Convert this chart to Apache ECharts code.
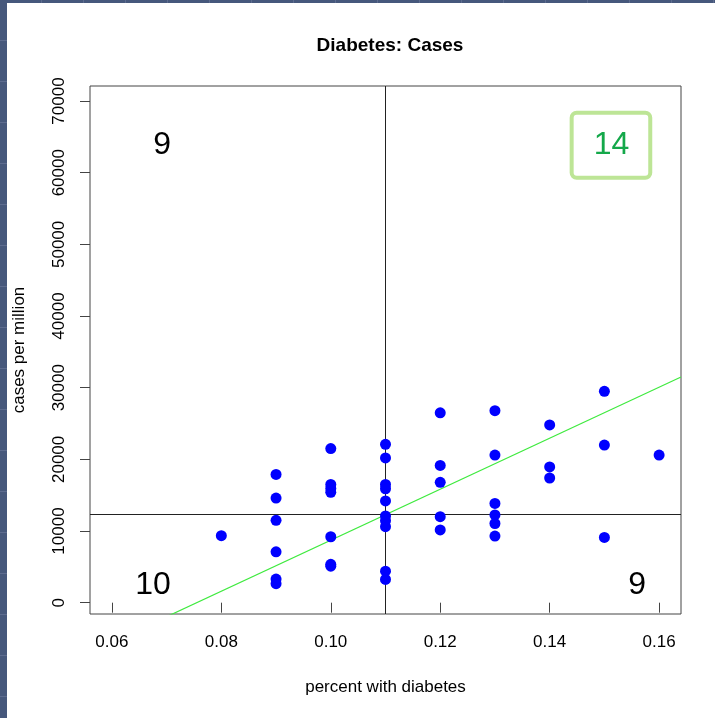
<!DOCTYPE html>
<html>
<head>
<meta charset="utf-8">
<script src="https://cdn.jsdelivr.net/npm/echarts@6/dist/echarts.min.js"></script>
<style>
  html, body { margin: 0; padding: 0; background: #ffffff; }
  #frame { position: relative; width: 715px; height: 718px; overflow: hidden; background: #ffffff; }
  #sideBar { position: absolute; left: 0; top: 0; width: 7px; height: 718px;
    background: repeating-linear-gradient(to bottom, #46587c 0px, #46587c 40px, #5d6c8f 40px, #5d6c8f 41px); }
  #topBar { position: absolute; left: 0; top: 0; width: 715px; height: 3px;
    background: repeating-linear-gradient(to right, #46587c 0px, #46587c 41px, #5d6c8f 41px, #5d6c8f 42px); }
  #chart { position: absolute; left: 0; top: 0; width: 715px; height: 718px; }
</style>
</head>
<body>
<div id="frame">
  <div id="chart"></div>
  <div id="sideBar"></div>
  <div id="topBar"></div>
</div>
<script>
// Prevalence (x) and case rate (y) per region
const percentDiabetes = [
  0.08,
  0.09, 0.09, 0.09, 0.09, 0.09, 0.09,
  0.10, 0.10, 0.10, 0.10, 0.10, 0.10, 0.10,
  0.11, 0.11, 0.11, 0.11, 0.11, 0.11, 0.11, 0.11, 0.11, 0.11,
  0.12, 0.12, 0.12, 0.12, 0.12,
  0.13, 0.13, 0.13, 0.13, 0.13, 0.13,
  0.14, 0.14, 0.14,
  0.15, 0.15, 0.15,
  0.16
];
const casesPerMillion = [
  9345,
  17900, 14600, 11500, 7100, 3300, 2650,
  21500, 16500, 15950, 15400, 9200, 5350, 5100,
  22100, 20200, 16500, 15900, 14200, 12100, 11450, 10600, 4400, 3250,
  26500, 19150, 16800, 12000, 10150,
  26800, 20600, 13850, 12250, 11050, 9300,
  24800, 18950, 17400,
  29500, 22000, 9100,
  20600
];

// Axis ticks
const xTicks = [0.06, 0.08, 0.10, 0.12, 0.14, 0.16];
const yTicks = [0, 10000, 20000, 30000, 40000, 50000, 60000, 70000];

// Quadrant dividers and least-squares fit
const xDivider = 0.11;
const yDivider = 12270;
const fitIntercept = -26865;
const fitSlope = 355800;

// Quadrant counts, placed in data coordinates
const countLabels = ['9', '14', '10', '9'];
const countX = [0.0692, 0.1512, 0.0675, 0.156];
const countY = [63836, 63836, 2469, 2469];

const X_MIN = 0.056, X_MAX = 0.164;
const Y_MIN = -1580, Y_MAX = 72100;

const FONT = '"Liberation Sans", Arial, Helvetica, sans-serif';

const points = percentDiabetes.map((x, i) => [x, casesPerMillion[i]]);
const fitLine = [X_MIN, X_MAX].map(x => [x, fitIntercept + fitSlope * x]);
const counts = countLabels.map((t, i) => ({
  value: [countX[i], countY[i], t],
  label: i === 1 ? {
    color: '#14a84a',
    borderColor: '#bde596',
    borderWidth: 4,
    borderRadius: 3,
    padding: [14, 19, 13, 20],
    backgroundColor: '#ffffff'
  } : {}
}));

const chart = echarts.init(document.getElementById('chart'), null, { renderer: 'canvas' });

chart.setOption({
  animation: false,
  backgroundColor: '#ffffff',
  title: {
    text: 'Diabetes: Cases',
    left: 385,
    top: 31,
    textAlign: 'center',
    textStyle: { fontFamily: FONT, fontSize: 19, fontWeight: 'bold', color: '#000' }
  },
  grid: {
    left: 90, right: 34, top: 86, bottom: 104,
    show: true, borderColor: '#444', borderWidth: 1, backgroundColor: 'transparent'
  },
  xAxis: {
    type: 'value',
    min: X_MIN, max: X_MAX,
    name: 'percent with diabetes',
    nameLocation: 'middle',
    nameGap: 65,
    nameTextStyle: { fontFamily: FONT, fontSize: 17, color: '#000' },
    axisLine: { show: false },
    axisTick: { show: true, inside: false, length: 10, customValues: xTicks, lineStyle: { color: '#444' } },
    axisLabel: {
      customValues: xTicks, margin: 20,
      fontFamily: FONT, fontSize: 17, color: '#000',
      formatter: v => v.toFixed(2)
    },
    splitLine: { show: false }
  },
  yAxis: {
    type: 'value',
    min: Y_MIN, max: Y_MAX,
    name: 'cases per million',
    nameLocation: 'middle',
    nameGap: 62,
    nameRotate: 90,
    nameTextStyle: { fontFamily: FONT, fontSize: 17, color: '#000' },
    axisLine: { show: false },
    axisTick: { show: true, inside: false, length: 10, customValues: yTicks, lineStyle: { color: '#444' } },
    axisLabel: {
      customValues: yTicks, margin: 22, rotate: 90,
      fontFamily: FONT, fontSize: 17, color: '#000',
      formatter: v => String(v)
    },
    splitLine: { show: false }
  },
  series: [
    {
      name: 'fit',
      type: 'line',
      data: fitLine,
      showSymbol: false,
      symbol: 'none',
      clip: true,
      silent: true,
      lineStyle: { color: '#3fea3f', width: 1.2 },
      z: 2
    },
    {
      name: 'regions',
      type: 'scatter',
      data: points,
      symbol: 'circle',
      symbolSize: 11,
      itemStyle: { color: '#0000ff', opacity: 1 },
      z: 3,
      markLine: {
        silent: true,
        symbol: 'none',
        label: { show: false },
        lineStyle: { color: '#222', width: 1, type: 'solid' },
        data: [{ xAxis: xDivider }, { yAxis: yDivider }],
        z: 1
      }
    },
    {
      name: 'counts',
      type: 'scatter',
      data: counts,
      symbolSize: 0,
      silent: true,
      z: 4,
      itemStyle: { opacity: 1 },
      label: {
        show: true,
        position: 'inside',
        formatter: p => p.value[2],
        fontFamily: FONT,
        fontSize: 32,
        lineHeight: 34,
        color: '#000',
        opacity: 1
      }
    }
  ]
});
</script>
</body>
</html>
